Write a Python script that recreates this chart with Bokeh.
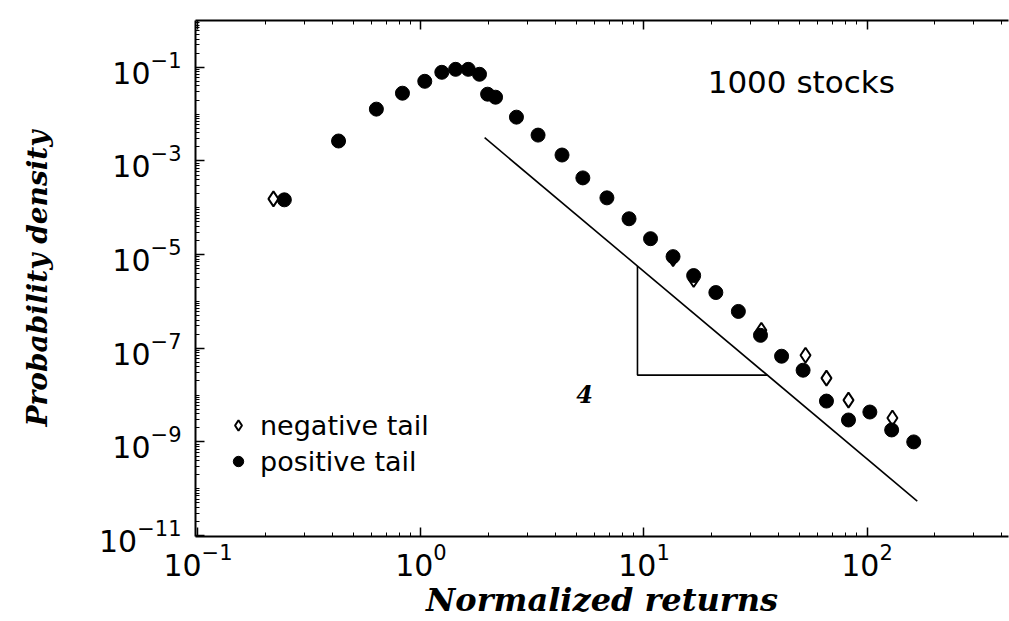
from bokeh.plotting import figure
from bokeh.models import (LogAxis, FixedTicker, Label, Legend, LegendItem,
                          ColumnDataSource, Range1d)
from bokeh.embed import file_html
from bokeh.resources import INLINE

# Positive tail of the normalized-return distribution (filled circles)
pos_x = [0.244, 0.427, 0.631, 0.826, 1.04, 1.24, 1.43, 1.63, 1.83, 1.99,
         2.16, 2.68, 3.35, 4.29, 5.32, 6.82, 8.57, 10.7, 13.5, 16.7,
         21.0, 26.5, 33.3, 41.4, 51.7, 65.8, 82.6, 103.0, 129.0, 162.0]
pos_y = [1.48e-4, 2.67e-3, 1.28e-2, 2.80e-2, 5.03e-2, 7.83e-2, 9.06e-2, 9.06e-2,
         7.10e-2, 2.67e-2, 2.30e-2, 8.63e-3, 3.57e-3, 1.34e-3, 4.35e-4, 1.63e-4,
         5.83e-5, 2.19e-5, 9.06e-6, 3.57e-6, 1.55e-6, 6.12e-7, 1.89e-7, 6.76e-8,
         3.40e-8, 7.45e-9, 2.94e-9, 4.35e-9, 1.80e-9, 1.00e-9]

# Negative tail (open diamonds)
neg_x = [0.218, 13.5, 16.7, 33.6, 53.0, 65.8, 82.6, 130.0]
neg_y = [1.55e-4, 8.2e-6, 2.94e-6, 2.42e-7, 7.1e-8, 2.30e-8, 7.8e-9, 3.24e-9]

# Power-law guide with slope -4
guide_exponent = 4
guide_amplitude = 0.0435
guide_x = [1.93, 168.0]
guide_y = [guide_amplitude * x ** -guide_exponent for x in guide_x]

# Slope triangle under the guide
tri_x0 = 9.35
tri_y_bottom = 2.67e-8
tri_x1 = (guide_amplitude / tri_y_bottom) ** (1.0 / guide_exponent)
tri_x = [tri_x0, tri_x0, tri_x1]
tri_y = [guide_amplitude * tri_x0 ** -guide_exponent, tri_y_bottom, tri_y_bottom]

x_major = [0.1, 1.0, 10.0, 100.0]
x_minor = [m * 10.0 ** k for k in range(-2, 3) for m in range(2, 10)]
y_major = [10.0 ** k for k in (-11, -9, -7, -5, -3, -1)]
y_minor = [m * 10.0 ** k for k in range(-12, 0) for m in range(1, 10)]

p = figure(width=1009, height=621, x_axis_type="log", y_axis_type="log",
           x_range=Range1d(0.0975, 431.0), y_range=Range1d(9.55e-12, 1.0),
           output_backend="svg", toolbar_location=None,
           min_border_left=195, min_border_right=1,
           min_border_top=20, min_border_bottom=83)
p.grid.visible = False
p.outline_line_color = None
p.background_fill_color = "white"
p.border_fill_color = "white"


def style_axis(ax):
    ax.axis_line_color = "black"
    ax.axis_line_width = 2
    ax.major_tick_line_color = "black"
    ax.major_tick_line_width = 1.5
    ax.minor_tick_line_color = "black"
    ax.minor_tick_line_width = 1
    ax.major_tick_in = 9
    ax.major_tick_out = 0
    ax.minor_tick_in = 4
    ax.minor_tick_out = 0
    ax.major_label_text_font = "DejaVu Sans"
    ax.major_label_text_font_size = "30px"
    ax.major_label_text_color = "black"
    ax.axis_label_text_color = "black"


xa = p.xaxis[0]
xa.ticker = FixedTicker(ticks=x_major, minor_ticks=x_minor)
style_axis(xa)
xa.major_label_standoff = 6
xa.axis_label = "Normalized returns"
xa.axis_label_text_font = "DejaVu Serif"
xa.axis_label_text_font_style = "bold italic"
xa.axis_label_text_font_size = "32px"
xa.axis_label_standoff = 2

ya = p.yaxis[0]
ya.ticker = FixedTicker(ticks=y_major, minor_ticks=y_minor)
style_axis(ya)
ya.major_label_standoff = 14
ya.axis_label = "Probability density"
ya.axis_label_text_font = "DejaVu Serif"
ya.axis_label_text_font_style = "bold italic"
ya.axis_label_text_font_size = "28px"
ya.axis_label_standoff = 42

top = LogAxis(ticker=FixedTicker(ticks=x_major, minor_ticks=x_minor))
style_axis(top)
top.major_label_text_font_size = "2px"
top.major_label_text_alpha = 0
top.major_label_standoff = 0
p.add_layout(top, "above")

# Guide line and slope triangle
p.line(guide_x, guide_y, line_color="black", line_width=1.6)
p.line(tri_x, tri_y, line_color="black", line_width=1.6)

neg_src = ColumnDataSource(dict(x=neg_x, y=neg_y))
pos_src = ColumnDataSource(dict(x=pos_x, y=pos_y))
neg_r = p.scatter("x", "y", source=neg_src, marker="diamond", size=15,
                  fill_color="white", line_color="black", line_width=2)
pos_r = p.scatter("x", "y", source=pos_src, marker="circle", size=14,
                  fill_color="black", line_color="black")

legend = Legend(items=[LegendItem(label="negative tail", renderers=[neg_r]),
                       LegendItem(label="positive tail", renderers=[pos_r])],
                location=(30, 57), border_line_color=None,
                background_fill_alpha=0, padding=0, margin=0, spacing=0,
                glyph_width=26, glyph_height=36, label_height=36,
                label_standoff=9, label_text_font="DejaVu Sans",
                label_text_font_size="27px", label_text_color="black")
p.add_layout(legend)

p.add_layout(Label(x=19.3, y=0.048, text="1000 stocks", text_font="DejaVu Sans",
                   text_font_size="31px", text_color="black",
                   text_baseline="alphabetic"))
p.add_layout(Label(x=5.41, y=1.05e-8, text="4", text_font="DejaVu Serif",
                   text_font_style="bold italic", text_font_size="24px",
                   text_color="black", text_align="center",
                   text_baseline="middle"))

open("out.html", "w").write(file_html(p, INLINE))
